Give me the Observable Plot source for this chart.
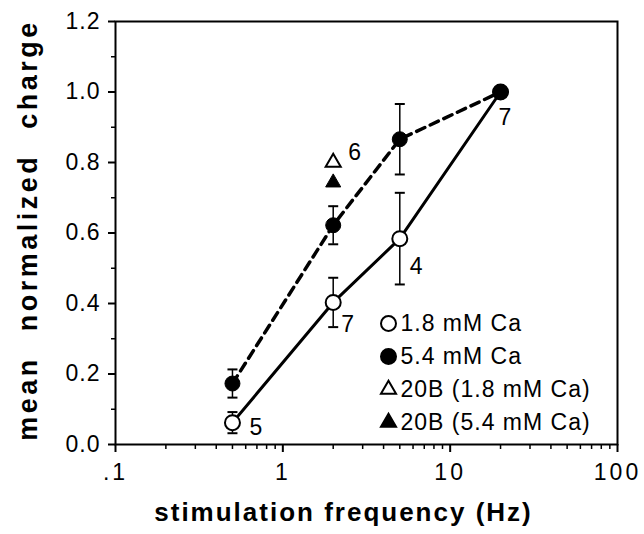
<!DOCTYPE html>
<html><head><meta charset="utf-8">
<script src="https://cdn.jsdelivr.net/npm/d3@7"></script>
<script src="https://cdn.jsdelivr.net/npm/@observablehq/plot@0.6"></script>
<style>
body{margin:0;background:#fff;}
#chart{width:644px;height:534px;}
#chart svg{font-family:"Liberation Sans",Arial,Helvetica,sans-serif;}
</style></head><body><div id="chart"></div>
<script>
// ---- data ----
const freq = [0.5, 2, 5, 20];
const ca18Mean = [0.062, 0.403, 0.584, 1.0];
const ca18Err = [0.03, 0.07, 0.13, 0];
const ca54Mean = [0.173, 0.622, 0.866, 1.0];
const ca54Err = [0.04, 0.054, 0.10, 0];
const nLabels = ["5", "7", "4", "7"];
const b20Freq = [2];
const b20Ca18 = [0.80];
const b20Ca54 = [0.743];
const b20N = ["6"];
const xTicks = [0.1, 1, 10, 100];
const xTickLabels = [".1", "1", "10", "100"];
const yTicks = [0, 0.2, 0.4, 0.6, 0.8, 1.0, 1.2];
const yMinor = [0.1, 0.3, 0.5, 0.7, 0.9, 1.1];
const legendLabels = ["1.8 mM Ca", "5.4 mM Ca", "20B (1.8 mM Ca)", "20B (5.4 mM Ca)"];
const xTitle = "stimulation frequency (Hz)";
const yTitle = "mean normalized charge";

// ---- tables ----
const ca18 = freq.map((f, i) => ({f, v: ca18Mean[i], e: ca18Err[i], n: nLabels[i]}));
const ca54 = freq.map((f, i) => ({f, v: ca54Mean[i], e: ca54Err[i]}));
const b20 = b20Freq.map((f, i) => ({f, a: b20Ca18[i], b: b20Ca54[i], n: b20N[i]}));
const xMinor = [0.1, 1, 10].flatMap(d => d3.range(2, 10).map(k => k * d));
const err = [...ca18, ...ca54].filter(d => d.e > 0);

const cap = {draw(ctx) { ctx.moveTo(-5, 0); ctx.lineTo(5, 0); }};
const FS = 23;

const legendStyles = [
  {symbol: "circle", fill: "white", r: 7.5},
  {symbol: "circle", fill: "black", r: 7.5},
  {symbol: "triangle", fill: "white", r: 5.6},
  {symbol: "triangle", fill: "black", r: 5.6}
];
const legendMarks = legendLabels.flatMap((lab, i) => {
  const dy = -22 - 33 * (3 - i);
  const s = legendStyles[i];
  return [
    Plot.dot([lab], {frameAnchor: "bottom-right", dx: -229, dy, symbol: s.symbol, r: s.r, fill: s.fill, stroke: "black", strokeWidth: 2}),
    Plot.text([lab], {frameAnchor: "bottom-right", dx: -217, dy, text: d => d, textAnchor: "start", lineAnchor: "middle", fontSize: 23, fill: "black"})
  ];
});

const chart = Plot.plot({
  width: 644, height: 534,
  marginLeft: 115, marginRight: 27, marginTop: 21, marginBottom: 90,
  style: {background: "white", color: "black", fontSize: FS + "px", overflow: "visible"},
  x: {type: "log", domain: [0.1, 100], axis: null},
  y: {domain: [0, 1.2], axis: null},
  marks: [
    Plot.axisX(xTicks, {tickSize: 8, tickPadding: 11, tickFormat: (d) => xTickLabels[xTicks.indexOf(d)], fontSize: FS, strokeWidth: 2, label: null}),
    Plot.axisX(xMinor, {tickSize: 5, text: null, strokeWidth: 1.5, label: null}),
    Plot.axisY(yTicks, {tickSize: 7, tickPadding: 8, tickFormat: d3.format(".1f"), fontSize: FS, strokeWidth: 2, label: null}),
    Plot.axisY(yMinor, {tickSize: 4, text: null, strokeWidth: 1.5, label: null}),
    Plot.frame({stroke: "black", strokeWidth: 2}),
    // error bars
    Plot.ruleX(err, {x: "f", y1: d => d.v - d.e, y2: d => d.v + d.e, stroke: "black", strokeWidth: 1.5}),
    Plot.dot(err, {x: "f", y: d => d.v + d.e, symbol: cap, stroke: "black", strokeWidth: 2, fill: "none"}),
    Plot.dot(err, {x: "f", y: d => d.v - d.e, symbol: cap, stroke: "black", strokeWidth: 2, fill: "none"}),
    // lines
    Plot.line(ca18, {x: "f", y: "v", stroke: "black", strokeWidth: 3}),
    Plot.line(ca54, {x: "f", y: "v", stroke: "black", strokeWidth: 3.5, strokeDasharray: "9,6"}),
    // points
    Plot.dot(ca18, {x: "f", y: "v", r: 7.5, fill: "white", stroke: "black", strokeWidth: 2}),
    Plot.dot(ca54, {x: "f", y: "v", r: 7.5, fill: "black", stroke: "black", strokeWidth: 1}),
    Plot.dot(b20, {x: "f", y: "a", symbol: "triangle", r: 5.6, fill: "white", stroke: "black", strokeWidth: 2}),
    Plot.dot(b20, {x: "f", y: "b", symbol: "triangle", r: 5.6, fill: "black", stroke: "black", strokeWidth: 1}),
    // n labels
    Plot.text([ca18[0]], {x: "f", y: "v", text: "n", dx: 17, dy: 5, textAnchor: "start", lineAnchor: "middle", fontSize: FS}),
    Plot.text([ca18[1]], {x: "f", y: "v", text: "n", dx: 8, dy: 22, textAnchor: "start", lineAnchor: "middle", fontSize: FS}),
    Plot.text([ca18[2]], {x: "f", y: "v", text: "n", dx: 10, dy: 28, textAnchor: "start", lineAnchor: "middle", fontSize: FS}),
    Plot.text([ca18[3]], {x: "f", y: "v", text: "n", dx: -2, dy: 26, textAnchor: "start", lineAnchor: "middle", fontSize: FS}),
    Plot.text(b20, {x: "f", y: "a", text: "n", dx: 15, dy: -10, textAnchor: "start", lineAnchor: "middle", fontSize: FS}),
    ...legendMarks,
    // titles
    Plot.text([xTitle], {frameAnchor: "bottom", dx: -23, dy: 68, text: d => d, textAnchor: "middle", lineAnchor: "middle", fontSize: 26, fontWeight: "bold"}),
    Plot.text([yTitle], {frameAnchor: "left", dx: -87, dy: -3, text: d => d, rotate: -90, textAnchor: "middle", lineAnchor: "middle", fontSize: 27, fontWeight: "bold"})
  ]
});
document.getElementById("chart").appendChild(chart);

// text spacing tweaks (typography only)
d3.select(chart).selectAll("text").each(function() {
  const t = this.textContent;
  const s = d3.select(this);
  if (t === yTitle) s.style("letter-spacing", "3.5px").style("word-spacing", "14px");
  else if (t === xTitle) s.style("letter-spacing", "2px");
  else if (xTickLabels.includes(t)) s.style("letter-spacing", "3px");
  else s.style("letter-spacing", "1px");
});
</script>
</body></html>
